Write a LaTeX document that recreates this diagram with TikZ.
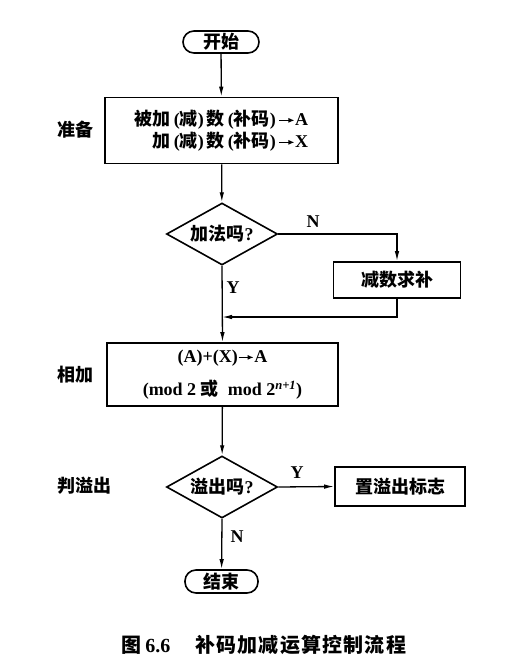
\documentclass[tikz,border=0pt]{standalone}
\usepackage{fontspec}
\setmainfont{Liberation Serif}
\newfontfamily\cjk{Noto Sans CJK SC}
\newfontfamily\cjkwide{Noto Sans CJK SC}[LetterSpace=6]
\newcommand{\zh}[1]{{\cjk #1}}
\usetikzlibrary{shapes.geometric,arrows.meta}
% short bold arrow used inside the box texts
\newcommand{\toarrow}{\tikz[baseline=-0.6ex]\draw[line width=1.4pt,-{Latex[length=6pt,width=5pt]}] (0,0) -- (15pt,0);}

\tikzset{
  base/.style={font=\fontsize{18}{22}\selectfont\bfseries, inner sep=0pt},
  procbox/.style={base, draw, line width=1.6pt, rectangle},
  termbox/.style={base, draw, line width=1.6pt, rectangle, rounded corners=11pt},
  decision/.style={base, draw, line width=1.6pt, diamond, aspect=1.8},
  sidelabel/.style={base},
  branchlabel/.style={base},
  arr/.style={line width=1.3pt, -{Latex[length=10pt,width=4.5pt]}}
}

\begin{document}
\begin{tikzpicture}[x=1pt,y=-1pt]
  \fill[white] (0,0) rectangle (519,667);
  \useasboundingbox (0,0) rectangle (519,667);

  % flow nodes
  \node[termbox, minimum width=76pt, minimum height=22pt] (start) at (221,42) {\zh{开始}};
  \node[procbox, minimum width=233pt, minimum height=66pt, align=right] (prep) at (221.5,130.5)
    {\zh{被加}\,(\zh{减})\,\zh{数}\,(\zh{补码})\,\toarrow A\\
     \zh{加}\,(\zh{减})\,\zh{数}\,(\zh{补码})\,\toarrow X};
  \node[decision, minimum width=111pt, minimum height=62pt] (d1) at (222,234) {\zh{加法吗}?};
  \node[procbox, minimum width=127pt, minimum height=36pt] (neg) at (397,280) {\zh{减数求补}};
  \coordinate (join) at (222,317);
  \node[procbox, minimum width=231pt, minimum height=63pt, align=center] (add) at (222.5,374.5)
    {(A)+(X)\toarrow A\\[11pt]
     (mod 2 \zh{或}\ \ mod 2\textsuperscript{\itshape n+1})};
  \node[decision, minimum width=111pt, minimum height=62pt] (d2) at (222,487) {\zh{溢出吗}?};
  \node[procbox, minimum width=130pt, minimum height=39pt] (flag) at (400,486.5) {\zh{置溢出标志}};
  \node[termbox, minimum width=73pt, minimum height=23pt] (stop) at (221.5,581.5) {\zh{结束}};

  % stage labels
  \node[sidelabel] (lprep) at (75,130) {\zh{准备}};
  \node[sidelabel] (ladd) at (75,375) {\zh{相加}};
  \node[sidelabel] (lovf) at (84,486) {\zh{判溢出}};

  % branch labels
  \node[branchlabel] (n1) at (313,222) {N};
  \node[branchlabel] (y1) at (233,288) {Y};
  \node[branchlabel] (y2) at (297,473) {Y};
  \node[branchlabel] (n2) at (237,537) {N};

  % connectors
  \draw[arr] (start) -- (prep);
  \draw[arr] (prep) -- (d1);
  \draw[arr] (d1.east) -| (neg.north);
  \draw[arr] (d1.south) -- (add.north);
  \draw[arr] (neg.south) |- (join);
  \draw[arr] (add) -- (d2);
  \draw[arr] (d2.east) -- (flag.west);
  \draw[arr] (d2.south) -- (stop);

  % caption
  \node[base, font=\fontsize{20}{24}\selectfont\bfseries] (cap) at (264,645)
    {{\cjk 图}\,6.6\quad\ {\cjkwide 补码加减运算控制流程}};
\end{tikzpicture}
\end{document}
